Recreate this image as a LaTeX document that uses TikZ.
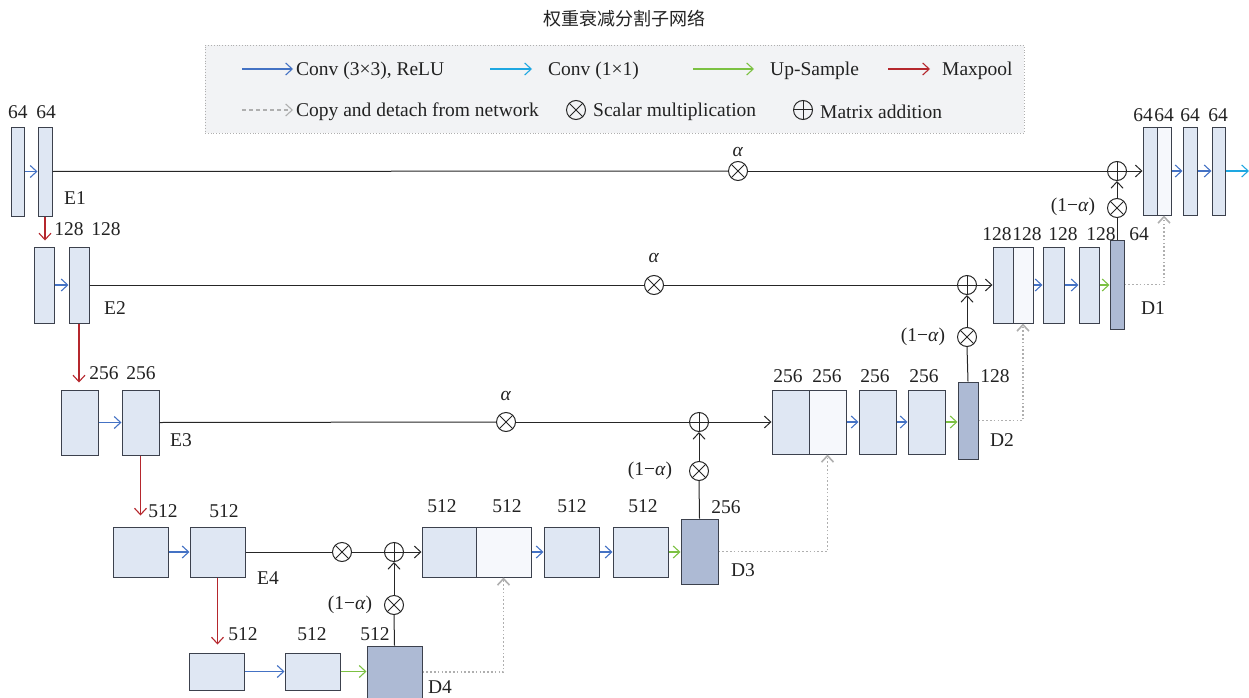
\documentclass[tikz,border=0pt]{standalone}
\usepackage{fontspec}
\setmainfont{Liberation Serif}
\newfontfamily\cjk{Noto Sans CJK SC}
\usetikzlibrary{arrows.meta}
\definecolor{blkfill}{RGB}{223,231,243}
\definecolor{lightfill}{RGB}{246,248,252}
\definecolor{dfill}{RGB}{173,186,212}
\definecolor{bordc}{RGB}{60,65,77}
\definecolor{cblue}{RGB}{68,114,196}
\definecolor{ccyan}{RGB}{30,167,225}
\definecolor{cgreen}{RGB}{124,193,66}
\definecolor{cred}{RGB}{181,39,45}
\definecolor{cgray}{RGB}{175,175,175}
\definecolor{legfill}{RGB}{242,243,245}
\definecolor{txt}{RGB}{34,34,34}
\newcommand\blockat[6]{%
 \pgfmathsetmacro\myBW{#5-#3}\pgfmathsetmacro\myBH{#6-#4}%
 \node[#1, minimum width=\myBW pt, minimum height=\myBH pt] (#2) at ({(#3+#5)/2},{(#4+#6)/2}) {};}
\begin{document}
\begin{tikzpicture}[x=1pt,y=-1pt,
 >={Straight Barb[length=6.5pt,width=12pt]},
 blk/.style={draw=bordc, fill=blkfill, line width=1pt, inner sep=0},
 blkl/.style={draw=bordc, fill=lightfill, line width=1pt, inner sep=0},
 dblk/.style={draw=bordc, fill=dfill, line width=1pt, inner sep=0},
 legbox/.style={draw=cgray, fill=legfill, line width=0.8pt, dotted, inner sep=0},
 lbl/.style={inner sep=0, text=txt, font=\fontsize{19.5}{23}\selectfont},
 ltxt/.style={lbl, anchor=west},
 bluearr/.style={->, draw=cblue, line width=1.1pt},
 cyanarr/.style={->, draw=ccyan, line width=1.1pt},
 greenarr/.style={->, draw=cgreen, line width=1.1pt},
 redarr/.style={->, draw=cred, line width=1.1pt},
 copyarr/.style={-{Straight Barb[length=6.5pt,width=12pt,line width=1.6pt]}, draw=cgray, line width=1.6pt, dash pattern=on 1.6pt off 2.2pt},
 line/.style={draw=black!85, line width=1pt},
 otimes/.style={circle, draw=black!85, line width=1pt, minimum size=19pt, inner sep=0,
   path picture={\draw[line width=1pt, black!85] (path picture bounding box.north west) -- (path picture bounding box.south east) (path picture bounding box.north east) -- (path picture bounding box.south west);}},
 oplus/.style={circle, draw=black!85, line width=1pt, minimum size=19pt, inner sep=0,
   path picture={\draw[line width=1pt, black!85] (path picture bounding box.north) -- (path picture bounding box.south) (path picture bounding box.west) -- (path picture bounding box.east);}}
]
\useasboundingbox (0,0) rectangle (1249,698);
% title
\node[inner sep=0, text=txt, font=\cjk\fontsize{18}{22}\selectfont] (title) at (624,19) {权重衰减分割子网络};
% legend
\blockat{legbox}{legend}{205}{45}{1024}{133}
\coordinate (l1s) at (242,69); \coordinate (l1e) at (293,69);
\draw[bluearr] (l1s) -- (l1e);
\node[ltxt] (l1t) at (296,71) {Conv (3×3), ReLU};
\coordinate (l2s) at (490,69); \coordinate (l2e) at (532,69);
\draw[cyanarr] (l2s) -- (l2e);
\node[ltxt] (l2t) at (548,71) {Conv (1×1)};
\coordinate (l3s) at (693,69); \coordinate (l3e) at (754,69);
\draw[greenarr] (l3s) -- (l3e);
\node[ltxt] (l3t) at (770,71) {Up-Sample};
\coordinate (l4s) at (888,69); \coordinate (l4e) at (930,69);
\draw[redarr] (l4s) -- (l4e);
\node[ltxt] (l4t) at (942,71) {Maxpool};
\coordinate (l5s) at (242,110); \coordinate (l5e) at (293,110);
\draw[->, draw=cgray, line width=1.1pt, dash pattern=on 4pt off 3pt] (l5s) -- (l5e);
\node[ltxt] (l5t) at (296,112) {Copy and detach from network};
\node[otimes] (l6s) at (576,110) {};
\node[ltxt] (l6t) at (593,112) {Scalar multiplication};
\node[oplus] (l7s) at (803,110) {};
\node[ltxt] (l7t) at (820,112) {Matrix addition};

% ---------- encoder ----------
\blockat{blk}{e1a}{11}{127}{24}{216}
\blockat{blk}{e1b}{38}{127}{52}{216}
\node[lbl] (e1al) at (18,112) {64};
\node[lbl] (e1bl) at (46,112) {64};
\node[lbl] (e1n) at (75,198) {E1};
\draw[bluearr] (e1a.east) -- (e1b.west);

\blockat{blk}{e2a}{34}{247}{54}{323}
\blockat{blk}{e2b}{69}{247}{89}{323}
\node[lbl] (e2al) at (69,229) {128};
\node[lbl] (e2bl) at (106,229) {128};
\node[lbl] (e2n) at (115,308) {E2};
\draw[bluearr] (e2a.east) -- (e2b.west);
\draw[redarr] (e1b.south) -- ([yshift=6pt]e1b.south |- e2a.north);

\blockat{blk}{e3a}{61}{390}{98}{455}
\blockat{blk}{e3b}{122}{390}{159}{455}
\node[lbl] (e3al) at (104,373) {256};
\node[lbl] (e3bl) at (141,373) {256};
\node[lbl] (e3n) at (181,440) {E3};
\draw[bluearr] (e3a.east) -- (e3b.west);
\draw[redarr] (e2b.south) -- ([yshift=7pt]e2b.south |- e3a.north);

\blockat{blk}{e4a}{113}{527}{168}{577}
\blockat{blk}{e4b}{190}{527}{245}{577}
\node[lbl] (e4al) at (163,511) {512};
\node[lbl] (e4bl) at (224,511) {512};
\node[lbl] (e4n) at (268,578) {E4};
\draw[bluearr] (e4a.east) -- (e4b.west);
\draw[redarr] (e3b.south) -- ([yshift=11pt]e3b.south |- e4a.north);

\blockat{blk}{b1}{189}{653}{244}{690}
\blockat{blk}{b2}{285}{653}{340}{690}
\blockat{dblk}{d4}{367}{646}{422}{698}
\node[lbl] (b1l) at (243,634) {512};
\node[lbl] (b2l) at (312,634) {512};
\node[lbl] (d4l) at (375,634) {512};
\node[lbl] (d4n) at (440,687) {D4};
\draw[redarr] (e4b.south) -- ([yshift=8pt]e4b.south |- b1.north);
\draw[bluearr] (b1.east) -- (b2.west);
\draw[greenarr] (b2.east) -- (b2.east -| d4.west);

% ---------- level 4 decoder ----------
\node[otimes] (m4) at (342,552) {};
\node[oplus] (a4) at (394,552) {};
\node[otimes] (n4) at (394,605) {};
\node[lbl] (n4l) at (350,605) {(1−\textit{α})};
\blockat{blk}{p4a}{422}{527}{476}{577}
\blockat{blkl}{p4b}{476}{527}{531}{577}
\blockat{blk}{p4c}{544}{527}{599}{577}
\blockat{blk}{p4d}{613}{527}{668}{577}
\blockat{dblk}{d3}{681}{519}{718}{584}
\node[lbl] (p4al) at (442,506) {512};
\node[lbl] (p4bl) at (507,506) {512};
\node[lbl] (p4cl) at (572,506) {512};
\node[lbl] (p4dl) at (643,506) {512};
\node[lbl] (d3l) at (726,507) {256};
\node[lbl] (d3n) at (743,570) {D3};
\draw[line] (e4b.east) -- (m4.west);
\draw[line] (m4.east) -- (a4.west);
\draw[line,->] (a4.east) -- (p4a.west);
\draw[line] (d4.north) -- (n4.south);
\draw[line,->] (n4.north) -- (a4.south);
\draw[bluearr] (p4b.east) -- (p4c.west);
\draw[bluearr] (p4c.east) -- (p4d.west);
\draw[greenarr] (p4d.east) -- (p4d.east -| d3.west);
\draw[copyarr] (d4.east) -- (d4.east -| p4b.south) -- (p4b.south);

% ---------- level 3 decoder ----------
\node[otimes] (m3) at (506,422) {};
\node[lbl] (m3l) at (506,396) {\textit{α}};
\node[oplus] (a3) at (699,422) {};
\node[otimes] (n3) at (699,471) {};
\node[lbl] (n3l) at (650,471) {(1−\textit{α})};
\blockat{blk}{p3a}{772}{390}{809}{454}
\blockat{blkl}{p3b}{809}{390}{846}{454}
\blockat{blk}{p3c}{859}{390}{896}{454}
\blockat{blk}{p3d}{908}{390}{945}{454}
\blockat{dblk}{d2}{958}{382}{978}{459}
\node[lbl] (p3al) at (788,376) {256};
\node[lbl] (p3bl) at (827,376) {256};
\node[lbl] (p3cl) at (875,376) {256};
\node[lbl] (p3dl) at (924,376) {256};
\node[lbl] (d2l) at (995,376) {128};
\node[lbl] (d2n) at (1002,440) {D2};
\draw[line] (e3b.east) -- (m3.west);
\draw[line] (m3.east) -- (a3.west);
\draw[line,->] (a3.east) -- (p3a.west);
\draw[line] (d3.north) -- (n3.south);
\draw[line,->] (n3.north) -- (a3.south);
\draw[bluearr] (p3b.east) -- (p3c.west);
\draw[bluearr] (p3c.east) -- (p3d.west);
\draw[greenarr] (p3d.east) -- (p3d.east -| d2.west);
\draw[copyarr] (d3.east) -- (d3.east -| p3b.south) -- (p3b.south);

% ---------- level 2 decoder ----------
\node[otimes] (m2) at (654,285) {};
\node[lbl] (m2l) at (654,258) {\textit{α}};
\node[oplus] (a2) at (967,285) {};
\node[otimes] (n2) at (967,337) {};
\node[lbl] (n2l) at (923,337) {(1−\textit{α})};
\blockat{blk}{p2a}{993}{247}{1013}{323}
\blockat{blkl}{p2b}{1013}{247}{1033}{323}
\blockat{blk}{p2c}{1043}{247}{1064}{323}
\blockat{blk}{p2d}{1079}{247}{1099}{323}
\blockat{dblk}{d1}{1110}{240}{1124}{329}
\node[lbl] (p2al) at (997,234) {128};
\node[lbl] (p2bl) at (1027,234) {128};
\node[lbl] (p2cl) at (1063,234) {128};
\node[lbl] (p2dl) at (1101,234) {128};
\node[lbl] (d1l) at (1139,234) {64};
\node[lbl] (d1n) at (1153,308) {D1};
\draw[line] (e2b.east) -- (m2.west);
\draw[line] (m2.east) -- (a2.west);
\draw[line,->] (a2.east) -- (p2a.west);
\draw[line] (d2.north) -- (n2.south);
\draw[line,->] (n2.north) -- (a2.south);
\draw[bluearr] (p2b.east) -- (p2c.west);
\draw[bluearr] (p2c.east) -- (p2d.west);
\draw[greenarr] (p2d.east) -- (p2d.east -| d1.west);
\draw[copyarr] (d2.east) -- (d2.east -| p2b.south) -- (p2b.south);

% ---------- level 1 decoder ----------
\node[otimes] (m1) at (738,171) {};
\node[lbl] (m1l) at (738,152) {\textit{α}};
\node[oplus] (a1) at (1117,171) {};
\node[otimes] (n1) at (1117,208) {};
\node[lbl] (n1l) at (1073,207) {(1−\textit{α})};
\blockat{blk}{p1a}{1143}{127}{1157}{215}
\blockat{blkl}{p1b}{1157}{127}{1171}{215}
\blockat{blk}{p1c}{1183}{127}{1197}{215}
\blockat{blk}{p1d}{1212}{127}{1225}{215}
\coordinate (out) at (1249,171);
\node[lbl] (p1al) at (1143,115) {64};
\node[lbl] (p1bl) at (1164,115) {64};
\node[lbl] (p1cl) at (1190,115) {64};
\node[lbl] (p1dl) at (1218,115) {64};
\draw[line] (e1b.east) -- (m1.west);
\draw[line] (m1.east) -- (a1.west);
\draw[line,->] (a1.east) -- (p1a.west);
\draw[line] (d1.north) -- (n1.south);
\draw[line,->] (n1.north) -- (a1.south);
\draw[bluearr] (p1b.east) -- (p1c.west);
\draw[bluearr] (p1c.east) -- (p1d.west);
\draw[cyanarr] (p1d.east) -- (out);
\draw[copyarr] (d1.east) -- (d1.east -| p1b.south) -- (p1b.south);
\end{tikzpicture}
\end{document}
